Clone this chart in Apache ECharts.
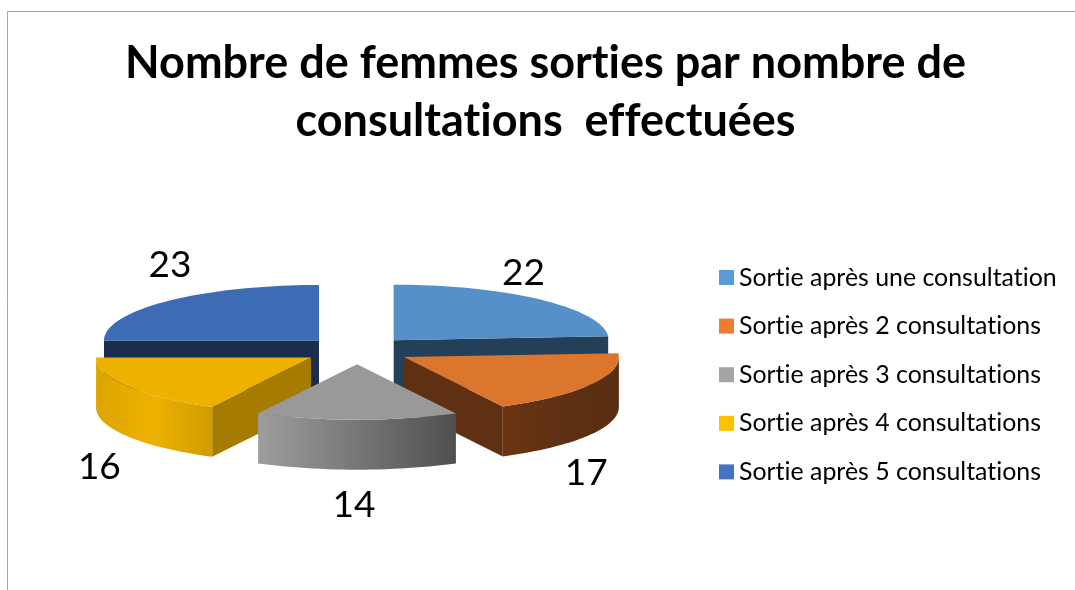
<!DOCTYPE html>
<html><head><meta charset="utf-8">
<style>html,body{margin:0;padding:0;background:#fff}#c{width:1075px;height:590px}</style>
<script src="https://cdn.jsdelivr.net/npm/echarts@6/dist/echarts.min.js"></script>
</head><body><div id="c"></div>
<script>
const categories = ['Sortie après une consultation','Sortie après 2 consultations','Sortie après 3 consultations','Sortie après 4 consultations','Sortie après 5 consultations'];
const values = [22, 17, 14, 16, 23];
const titleText = 'Nombre de femmes sorties par nombre de\nconsultations  effectuées';

const legendColors = ['#5b9bd5','#ed7d31','#a5a5a5','#ffc000','#4472c4'];
const topColors = ['#5590c8','#dc762c','#999999','#edb100','#3d6bb5'];
const faceColors = ['#243f58','#5f3012','#666666','#a67c00','#1a2d50'];
const wallStops = [
  ['#243f58','#243f58'],
  ['#6a3513','#5f3012','#5a2e11'],
  ['#9e9e9e','#4f4f4f'],
  ['#dca500','#edb100','#d09c00'],
  ['#1a2d50','#1a2d50']
];
const labelOffsets = [[-17,-27],[-5,39],[-3,35],[-28,31],[3,-36]];
const G = {cx:357, cy:350.3, rx:215, ry:55.5, depth:50, explode:0.25};

// Draw letters one by one: the reference has no "ti"/"ff" ligatures
['fillText','measureText'].forEach(m=>{
  const orig = CanvasRenderingContext2D.prototype[m];
  CanvasRenderingContext2D.prototype[m] = function(...a){
    if(this.textRendering!=='optimizeSpeed') this.textRendering='optimizeSpeed';
    return orig.apply(this,a);
  };
});

const total = values.reduce((a,b)=>a+b,0);
const rad = d => d*Math.PI/180;
const pt = (c,a,k=1) => [c[0]+G.rx*k*Math.sin(a), c[1]-G.ry*k*Math.cos(a)];
const down = p => [p[0],p[1]+G.depth];

function angles(i){
  let s = 0;
  for(let j=0;j<i;j++) s += values[j];
  return [s/total*2*Math.PI,(s+values[i])/total*2*Math.PI];
}
function arc(c,a0,a1){
  const n = Math.max(2,Math.ceil((a1-a0)/rad(2)));
  const out = [];
  for(let k=0;k<=n;k++) out.push(pt(c,a0+(a1-a0)*k/n));
  return out;
}
function renderItem(params, api){
  const i = params.seriesIndex;
  const [a0,a1] = angles(i);
  const mid = (a0+a1)/2;
  const apex = pt([G.cx,G.cy],mid,G.explode);
  const kids = [];
  const quad = (p,q,fill)=>kids.push({type:'polygon',shape:{points:[p,q,down(q),down(p)]},style:{fill:fill}});
  if(Math.sin(a0) < -1e-6) quad(apex,pt(apex,a0),faceColors[i]);
  if(Math.sin(a1) > 1e-6) quad(apex,pt(apex,a1),faceColors[i]);
  const f0 = Math.max(a0,Math.PI/2), f1 = Math.min(a1,1.5*Math.PI);
  if(f1>f0){
    const front = arc(apex,f0,f1);
    const stops = wallStops[i].map((c,k,arr)=>({offset:k/(arr.length-1),color:c}));
    kids.push({type:'polygon',shape:{points:front.concat(front.map(down).reverse())},
      style:{fill:{type:'linear',x:0,y:0,x2:1,y2:0,colorStops:stops}}});
  }
  kids.push({type:'polygon',shape:{points:[apex].concat(arc(apex,a0,a1))},style:{fill:topColors[i]}});
  const o = pt(apex,mid);
  const bottom = Math.cos(mid)<0 ? G.depth : 0;
  kids.push({type:'text',x:o[0]+labelOffsets[i][0],y:o[1]+bottom+labelOffsets[i][1],
    style:{text:String(api.value(0)),fontFamily:'Lato',fontSize:37,fill:'#000',align:'center',verticalAlign:'middle'}});
  return {type:'group',children:kids};
}
const chart = echarts.init(document.getElementById('c'),null,{renderer:'canvas'});
chart.setOption({
  animation:false,
  backgroundColor:'#fff',
  title:{text:titleText,left:545.5,top:34,padding:0,textAlign:'center',
    textStyle:{fontFamily:'Lato',fontWeight:'bold',fontSize:45,lineHeight:58,color:'#000'}},
  legend:{orient:'vertical',left:719,top:265,padding:0,itemWidth:15,itemHeight:15,itemGap:23.6,icon:'rect',selectedMode:false,
    data:categories,textStyle:{fontFamily:'Lato',fontSize:24.9,color:'#000',padding:0}},
  graphic:[{type:'polyline',silent:true,shape:{points:[[7.5,590],[7.5,11.5],[1075,11.5]]},style:{stroke:'#a6a6a6',lineWidth:1,fill:null}}],
  series:categories.map((name,i)=>{
    const [a0,a1] = angles(i);
    return {type:'custom',name:name,coordinateSystem:'none',silent:true,clip:false,
      z:Math.round(10-10*Math.cos((a0+a1)/2))+2,
      itemStyle:{color:legendColors[i]},
      renderItem:renderItem,data:[[values[i]]]};
  })
});
</script></body></html>
